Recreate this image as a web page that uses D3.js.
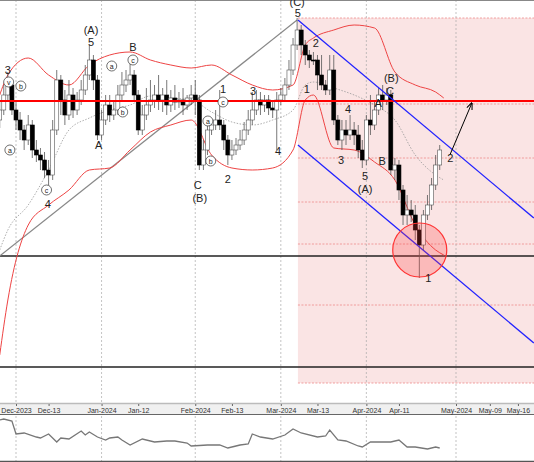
<!DOCTYPE html>
<html><head><meta charset="utf-8">
<script src="https://cdn.jsdelivr.net/npm/d3@7"></script>
<style>body{margin:0;background:#fff}svg{display:block;font-family:"Liberation Sans",Arial,sans-serif}</style>
</head><body><svg id="c" width="534" height="462"></svg>
<script>
// Trading-day index candles [open, high, low, close] (price points, 10000 = 1.0000)
const candles = [
[10880,10900,10872,10890],[10890,10915,10885,10905],[10905,10928,10900,10915],[10915,10920,10885,10890],[10890,10900,10870,10880],
[10880,10888,10860,10870],[10870,10875,10850,10860],[10860,10885,10855,10875],[10875,10880,10842,10850],[10850,10860,10838,10845],
[10845,10852,10830,10840],[10840,10848,10822,10830],[10830,10840,10810,10825],[10825,10880,10820,10870],[10870,10930,10865,10920],
[10920,10925,10885,10900],[10900,10910,10875,10885],[10885,10920,10880,10905],[10905,10912,10882,10890],[10890,10908,10885,10900],
[10900,10920,10895,10910],[10910,10935,10905,10925],[10925,10955,10920,10940],[10940,10945,10910,10920],[10920,10925,10860,10865],
[10865,10890,10860,10880],[10880,10905,10875,10895],[10895,10905,10878,10885],[10885,10900,10880,10890],[10890,10915,10885,10905],
[10905,10928,10900,10915],[10915,10930,10908,10920],[10920,10942,10915,10925],[10925,10930,10898,10905],[10905,10910,10865,10870],
[10870,10895,10865,10885],[10885,10912,10880,10895],[10895,10920,10888,10900],[10900,10915,10892,10905],[10905,10925,10890,10900],
[10900,10912,10888,10905],[10905,10920,10885,10895],[10895,10910,10888,10902],[10902,10915,10890,10898],[10898,10908,10892,10900],
[10900,10912,10885,10895],[10895,10905,10890,10902],[10902,10915,10895,10905],[10905,10920,10885,10900],[10900,10905,10830,10835],
[10835,10860,10830,10850],[10850,10880,10845,10870],[10870,10882,10865,10875],[10875,10890,10870,10880],[10880,10910,10870,10875],
[10875,10880,10850,10860],[10860,10865,10835,10845],[10845,10860,10840,10850],[10850,10862,10845,10855],[10855,10870,10850,10860],
[10860,10878,10855,10870],[10870,10890,10865,10880],[10880,10908,10875,10890],[10890,10910,10885,10900],[10900,10908,10885,10895],
[10895,10905,10888,10900],[10900,10905,10885,10892],[10892,10900,10882,10890],[10890,10908,10850,10900],[10900,10912,10895,10905],
[10905,10922,10900,10915],[10915,10940,10910,10930],[10930,10962,10925,10955],[10955,10982,10950,10970],[10970,10975,10945,10955],
[10955,10960,10935,10945],[10945,10950,10932,10940],[10940,10948,10935,10939],[10940,10945,10910,10925],[10925,10945,10910,10915],
[10915,10920,10905,10910],[10910,10945,10905,10930],[10930,10945,10875,10880],[10880,10885,10855,10860],[10860,10880,10850,10870],
[10870,10880,10855,10865],[10865,10885,10860,10870],[10870,10878,10855,10865],[10865,10875,10842,10850],[10850,10860,10832,10840],
[10840,10885,10835,10880],[10880,10905,10865,10875],[10875,10900,10870,10890],[10890,10912,10885,10905],[10905,10915,10890,10900],
[10900,10912,10895,10905],[10905,10910,10825,10830],[10830,10842,10820,10835],[10835,10840,10800,10810],[10810,10815,10775,10785],
[10785,10805,10775,10790],[10790,10800,10778,10785],[10785,10795,10760,10770],[10770,10775,10722,10755],[10755,10790,10750,10785],
[10785,10805,10780,10795],[10795,10822,10790,10815],[10815,10845,10810,10835],[10835,10855,10830,10850]
];
// Bollinger bands sampled weekly (trading-day index, value)
const bandIdx = [0,2,7,12,17,22,27,32,37,42,47,52,57,62,67,72,75,77,82,87,92,97,102,107,109];
const bandUpper = [10905,10925,10942,10925,10915,10935,10945,10948,10940,10935,10932,10935,10925,10915,10910,10915,10955,10962,10970,10975,10972,10928,10915,10908,10902];
const bandLower = [10645,10700,10775,10795,10810,10830,10832,10850,10868,10875,10880,10845,10832,10830,10832,10850,10900,10905,10852,10850,10838,10820,10775,10750,10745];
const bandMid   = [10750,10770,10795,10830,10870,10882,10890,10895,10904,10902,10900,10888,10878,10875,10880,10890,10915,10918,10912,10905,10895,10880,10845,10825,10820];
// Indicator (lower panel)
const indIdx = [0,1,3,4,6,9,10,12,14,15,17,20,21,22,24,26,27,29,30,32,35,38,41,43,46,47,51,54,56,58,59,61,62,64,67,70,72,74,78,80,81,83,85,88,89,91,96,98,100,102,105,107,108];
const indVal = [40,41,39,26,27,23,22,26,18,22,21,29,25,28,23,20,22,23,20,15,21,18,19,19,17,14,15,15,12,14,15,16,26,23,21,25,31,27,23,24,30,20,19,14,13,18,18,20,13,13,11,13,12];
// Axis ticks
const tickIdx = [4,12,25,34,48,57,69,78,90,98,112,120.3,127.2];
const tickLabels = ["Dec-2023","Dec-13","Jan-2024","Jan-12","Feb-2024","Feb-13","Mar-2024","Mar-13","Apr-2024","Apr-11","May-2024","May-09","May-16"];
const monthIdx = [4,25,48,69,90,112];
// Levels
const redLevel = 10899;
const blackLevels = [10744,10633];
const fibLevels = [10982,10896,10842,10798,10756,10695,10617];
const boxStart = 73.2, boxTop = 10982, boxBottom = 10617;
const chanUpper = [[73.2,10980],[131.1,10782]];
const chanLower = [[73.2,10855],[131.1,10657]];
const diagLine = [[0,10744],[73,10980]];
const arrowPts = [[110.5,10845],[115.9,10897]];
const circlePt = [103.1,10750];
// Wave labels [index, price, text, circled]
const waveLabels = [
[2.0,10930,"3",0],[2.2,10918,"v",1],[5.2,10914,"b",1],[2.5,10850,"a",1],[11.5,10810,"c",1],[11.8,10796,"4",0],
[22.4,10970,"(A)",0],[22.4,10958,"5",0],[27.5,10934,"a",1],[32.7,10953,"B",0],[32.7,10940,"c",1],[30.2,10888,"b",1],[24.3,10855,"A",0],
[48.6,10815,"C",0],[49.1,10802,"(B)",0],[54.8,10911,"1",0],[54.8,10898,"c",1],[51.1,10879,"a",1],[51.8,10839,"b",1],[56.0,10821,"2",0],
[62.2,10909,"3",0],[68.3,10849,"4",0],[73.0,10998,"(C)",0],[73.2,10987,"5",0],[77.6,10957,"2",0],[75.4,10911,"1",0],
[85.5,10891,"4",0],[83.8,10840,"3",0],[89.7,10824,"5",0],[89.7,10811,"(A)",0],[93.9,10839,"B",0],[92.9,10897,"A",0],
[95.8,10909,"C",0],[96.1,10922,"(B)",0],[110.6,10842,"2",0],[105.2,10722,"1",0]
];

const svg = d3.select("#c");
const W = 534;
const x = d3.scaleLinear().domain([4,112]).range([16,456]);
const y = d3.scaleLinear().domain([10598,11000]).range([402,0]);
const yi = d3.scaleLinear().domain([0,45]).range([460,415]);

svg.append("rect").attr("x",x(boxStart)).attr("y",y(boxTop)).attr("width",W-x(boxStart)).attr("height",y(boxBottom)-y(boxTop)).attr("fill","rgba(230,120,120,0.2)");
fibLevels.forEach(v=>svg.append("line").attr("x1",x(boxStart)).attr("x2",W).attr("y1",y(v)).attr("y2",y(v)).attr("stroke","#e88").attr("stroke-width",0.8).attr("stroke-dasharray","2,1.5"));
monthIdx.forEach(m=>svg.append("line").attr("x1",x(m)).attr("x2",x(m)).attr("y1",0).attr("y2",462).attr("stroke","#aaa").attr("stroke-width",0.7).attr("stroke-dasharray","2,2"));
svg.append("line").attr("x1",0).attr("x2",W).attr("y1",0.5).attr("y2",0.5).attr("stroke","#888");

blackLevels.forEach(v=>svg.append("line").attr("x1",0).attr("x2",W).attr("y1",y(v)).attr("y2",y(v)).attr("stroke","#222").attr("stroke-width",1.6));
const ln = d3.line().x(d=>x(d[0])).y(d=>y(d[1]));
svg.append("path").attr("d",ln(diagLine)).attr("stroke","#888").attr("stroke-width",1.2).attr("fill","none");

const bl = d3.line().curve(d3.curveMonotoneX).x((d,i)=>x(bandIdx[i])).y(d=>y(d));
svg.append("path").attr("d",bl(bandUpper)).attr("stroke","#e44").attr("fill","none").attr("stroke-width",1);
svg.append("path").attr("d",bl(bandLower)).attr("stroke","#e44").attr("fill","none").attr("stroke-width",1);
svg.append("path").attr("d",bl(bandMid)).attr("stroke","#999").attr("fill","none").attr("stroke-width",0.8).attr("stroke-dasharray","1.5,1.5");

const g = svg.append("g");
candles.forEach((c,i)=>{
  const [o,h,l,cl]=c, cx=x(i);
  g.append("line").attr("x1",cx).attr("x2",cx).attr("y1",y(h)).attr("y2",y(l)).attr("stroke","#555").attr("stroke-width",0.8);
  const top=y(Math.max(o,cl)), bot=y(Math.min(o,cl));
  g.append("rect").attr("x",cx-2).attr("y",top).attr("width",4).attr("height",Math.max(1,bot-top))
   .attr("fill",cl<o?"#000":"#fff").attr("stroke",cl<o?"#000":"#555").attr("stroke-width",0.6);
});

svg.append("line").attr("x1",0).attr("x2",W).attr("y1",y(redLevel)).attr("y2",y(redLevel)).attr("stroke","#f00").attr("stroke-width",2);
svg.append("path").attr("d",ln(chanUpper)).attr("stroke","#22f").attr("stroke-width",1.3).attr("fill","none");
svg.append("path").attr("d",ln(chanLower)).attr("stroke","#22f").attr("stroke-width",1.3).attr("fill","none");
svg.append("circle").attr("cx",x(circlePt[0])).attr("cy",y(circlePt[1])).attr("r",27).attr("fill","rgba(255,60,60,0.25)").attr("stroke","#f33").attr("stroke-width",1.2);
svg.append("defs").append("marker").attr("id","ar").attr("viewBox","0 0 10 10").attr("refX",9).attr("refY",5).attr("markerWidth",7).attr("markerHeight",7).attr("orient","auto")
 .append("path").attr("d","M0,1L10,5L0,9").attr("fill","none").attr("stroke","#000").attr("stroke-width",1.5);
svg.append("path").attr("d",ln(arrowPts)).attr("stroke","#000").attr("stroke-width",1).attr("marker-end","url(#ar)");

waveLabels.forEach(([i,p,t,circ])=>{
  const lx=x(i), ly=y(p);
  if(circ){
    svg.append("circle").attr("cx",lx).attr("cy",ly).attr("r",5).attr("fill","#fff").attr("stroke","#333").attr("stroke-width",0.7);
    svg.append("text").attr("x",lx).attr("y",ly+2.5).attr("text-anchor","middle").attr("font-size",7).attr("fill","#222").text(t);
  } else {
    svg.append("text").attr("x",lx).attr("y",ly+4).attr("text-anchor","middle").attr("font-size",11).attr("fill","#222").text(t);
  }
});

svg.append("rect").attr("x",0).attr("y",403).attr("width",W).attr("height",11).attr("fill","#f0f0f0");
svg.append("line").attr("x1",0).attr("x2",W).attr("y1",403.5).attr("y2",403.5).attr("stroke","#bbb").attr("stroke-width",1.5);
svg.append("line").attr("x1",0).attr("x2",W).attr("y1",414.5).attr("y2",414.5).attr("stroke","#666");
const ax = d3.axisTop(x).tickValues(tickIdx).tickFormat((d,i)=>tickLabels[i]).tickSize(2);
const axg = svg.append("g").attr("transform","translate(0,406)").call(ax);
axg.select(".domain").remove();
axg.selectAll("text").attr("y",7).attr("font-size",7).attr("fill","#333").attr("font-family","Liberation Sans, Arial");
axg.selectAll("line").attr("stroke","#666");

const il = d3.line().x((d,i)=>x(indIdx[i])).y(d=>yi(d));
svg.append("path").attr("d",il(indVal)).attr("stroke","#777").attr("stroke-width",1.3).attr("fill","none");
svg.append("line").attr("x1",0).attr("x2",W).attr("y1",461.5).attr("y2",461.5).attr("stroke","#555").attr("stroke-width",1.5);
</script></body></html>
